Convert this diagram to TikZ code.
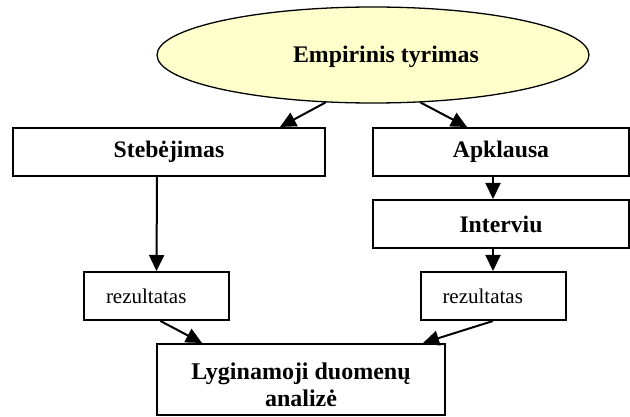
\documentclass[tikz,border=0pt]{standalone}
\usepackage{fontspec}
\setmainfont{Liberation Serif}
\usetikzlibrary{shapes.geometric,arrows.meta,calc}
\definecolor{paleyellow}{HTML}{FFFFCC}
\begin{document}
\begin{tikzpicture}[x=1pt,y=-1pt,
  stepbox/.style={draw, line width=2pt, rectangle, minimum height=48pt, inner sep=0pt,
    font=\bfseries\fontsize{23.7}{27}\selectfont},
  resbox/.style={draw, line width=2pt, rectangle, minimum height=48pt, inner xsep=22pt,
    inner ysep=0pt, text width=101pt, align=left, font=\fontsize{21}{24}\selectfont},
  arr/.style={line width=2pt, -{Triangle[length=16pt,width=15pt]}},
]
\useasboundingbox (0,0) rectangle (630,417);

% top ellipse
\node[ellipse, draw, line width=1.3pt, fill=paleyellow, minimum width=432pt,
  minimum height=96pt, inner sep=0pt] (emp) at (373,55) {};
\node[font=\bfseries\fontsize{23.8}{27}\selectfont] (empt) at (386,57) {Empirinis tyrimas};

% method boxes
\node[stepbox, minimum width=312pt] (steb) at (169,152) {Stebėjimas};
\node[stepbox, minimum width=256pt] (apk) at (501,152) {Apklausa};
\node[stepbox, minimum width=256pt] (int) at (501,224) {Interviu};

% result boxes
\node[resbox] (rezl) at (156.5,296) {rezultatas};
\node[resbox] (rezr) at (493,296) {rezultatas};

% final analysis box and its two-line caption
\node[draw, line width=2pt, rectangle, minimum width=288pt, minimum height=71pt,
  inner sep=0pt] (anal) at (301,379.5) {};
\node[align=center, inner sep=0pt,
  font=\bfseries\fontsize{24}{27}\selectfont] (analt) at (301,385)
  {Lyginamoji duomenų\\analizė};

% connectors
\draw[arr] (emp.225) -- ([xshift=111pt]steb.north);
\draw[arr] (emp.315) -- ([xshift=-34pt]apk.north);
\draw[arr] ([xshift=-8pt]apk.south) -- ([xshift=-8pt]int.north);
\draw[arr] ([xshift=-12pt]steb.south) -- (rezl.north);
\draw[arr] ([xshift=-8pt]int.south) -- (rezr.north);
\draw[arr] ([xshift=4pt]rezl.south) -- ([xshift=-99pt]anal.north);
\draw[arr] (rezr.south) -- ([xshift=122pt]anal.north);
\end{tikzpicture}
\end{document}
